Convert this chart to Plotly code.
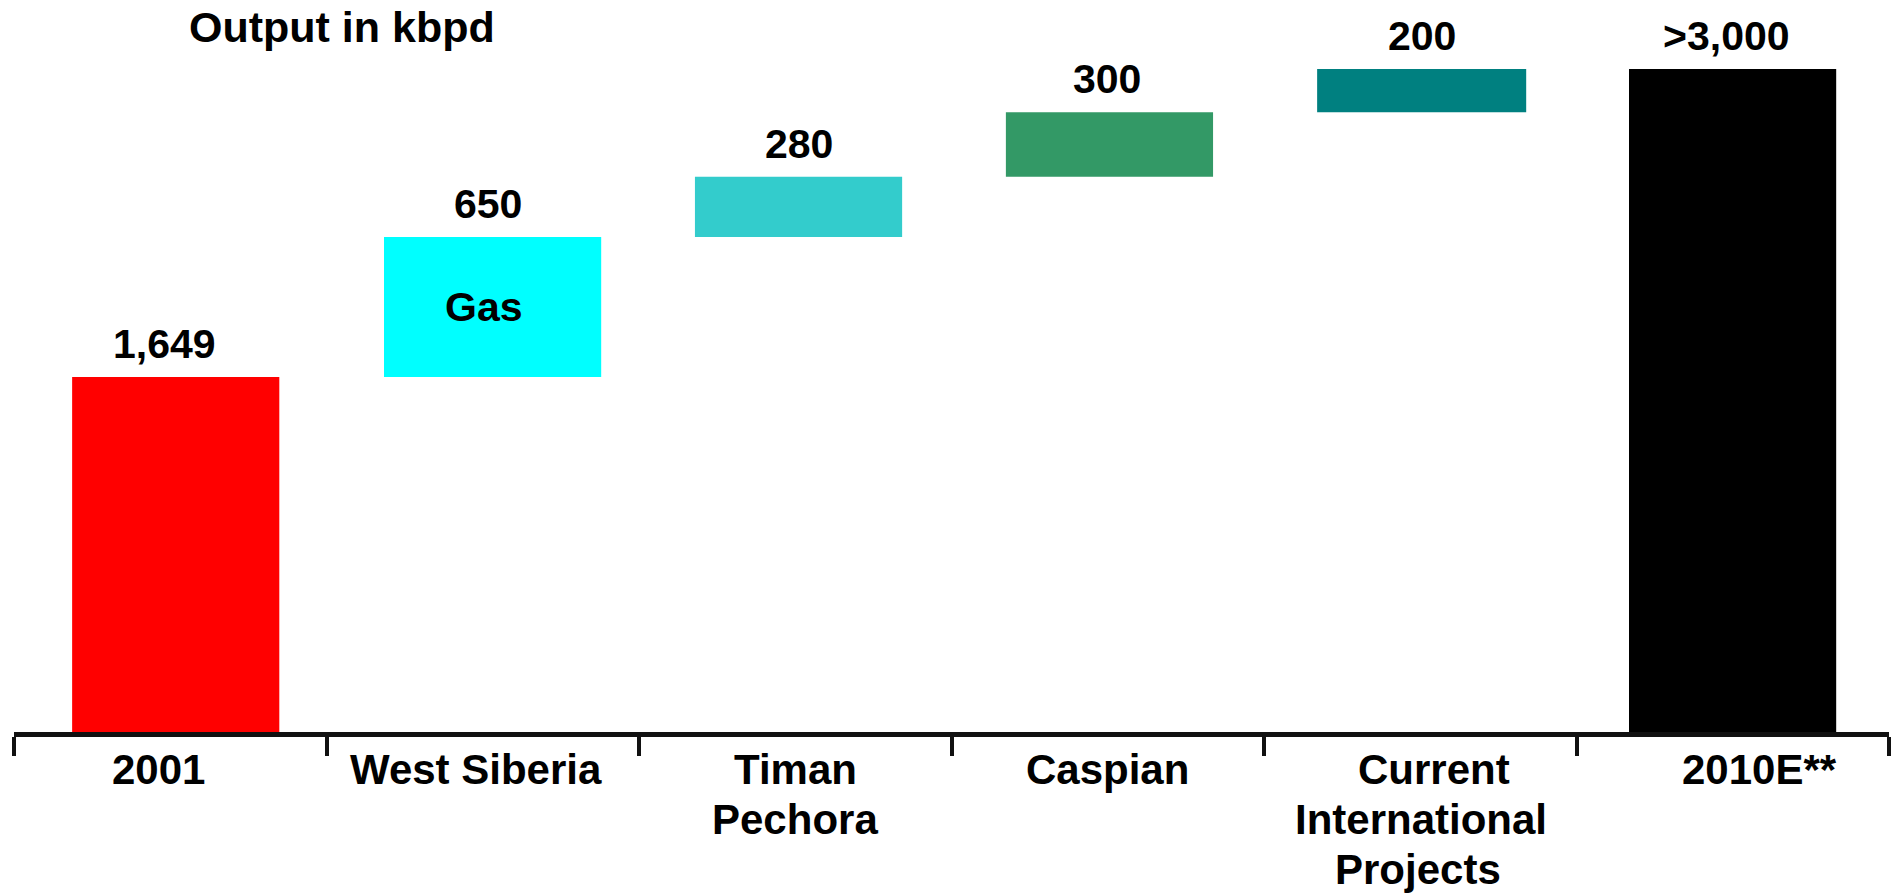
import plotly.graph_objects as go

# Oil output bridge, 2001 -> 2010E (kbpd)
categories = ["2001", "West Siberia", "Timan<br>Pechora", "Caspian",
              "Current<br>International<br>Projects", "2010E**"]
start_value = 1649
increments = [650, 280, 300, 200]
value_labels = ["1,649", "650", "280", "300", "200", ">3,000"]
inner_label = {"West Siberia": "Gas"}

# Styling
bar_colors = ["#FF0000", "#00FFFF", "#33CCCC", "#339966", "#008080", "#000000"]
bar_widths = [0.663, 0.695, 0.663, 0.663, 0.669, 0.663]
bar_offsets = [-0.314, -0.316, -0.321, -0.326, -0.330, -0.332]
value_label_xshift = [-11, -5, 0, -2, 0, -6]      # px, relative to bar centre
inner_label_xshift = -9
category_line_xshift = [[-12], [-7], [0, 0], [0], [14, 1, -2], [27]]

# Build floating bars: start bar, stacked increments, then total
total_value = start_value + sum(increments)
heights = [start_value] + increments + [total_value]
bases = [0]
running = start_value
for inc in increments:
    bases.append(running)
    running += inc
bases.append(0)

FONT = "Liberation Sans, Arial, sans-serif"

fig = go.Figure(
    go.Bar(
        x=categories,
        y=heights,
        base=bases,
        width=bar_widths,
        offset=bar_offsets,
        marker=dict(color=bar_colors, line=dict(width=0)),
        hoverinfo="skip",
    )
)

# Bar centres on the category axis (index units)
centres = [i + o + w / 2 for i, (o, w) in enumerate(zip(bar_offsets, bar_widths))]

annotations = []
# Value labels above each bar
for i, (b, h, lab) in enumerate(zip(bases, heights, value_labels)):
    annotations.append(dict(
        x=centres[i], y=b + h, xref="x", yref="y", text=lab, showarrow=False,
        yanchor="middle", yshift=33, xshift=value_label_xshift[i],
        font=dict(family=FONT, size=41, color="black", weight="bold"),
    ))
# Text inside bars
for i, cat in enumerate(categories):
    if cat in inner_label:
        annotations.append(dict(
            x=centres[i], y=bases[i] + heights[i] / 2, xref="x", yref="y",
            text=inner_label[cat], showarrow=False, yanchor="middle",
            xshift=inner_label_xshift,
            font=dict(family=FONT, size=41, color="black", weight="bold"),
        ))
# Category labels under the axis, one line per annotation
for i, cat in enumerate(categories):
    for j, line in enumerate(cat.split("<br>")):
        annotations.append(dict(
            x=i, y=0, xref="x", yref="y", text=line, showarrow=False,
            yanchor="middle", yshift=-(37 + 50 * j),
            xshift=category_line_xshift[i][j],
            font=dict(family=FONT, size=42, color="black", weight="bold"),
        ))

plot_w = 1897 - 14 - 8
plot_h = 894 - 162
# Unit caption, placed in paper coordinates
annotations.append(dict(
    x=(187 - 14) / plot_w, y=1 - 27 / plot_h, xref="paper", yref="paper",
    text="Output in kbpd", showarrow=False, xanchor="left", yanchor="middle",
    font=dict(family=FONT, size=43, color="black", weight="bold"),
))

fig.update_layout(
    width=1897, height=894,
    margin=dict(l=14, r=8, t=0, b=162, pad=0),
    paper_bgcolor="white", plot_bgcolor="white",
    showlegend=False,
    annotations=annotations,
    xaxis=dict(
        type="category",
        range=[-0.5, len(categories) - 0.5],
        showticklabels=False,
        tickson="boundaries", ticks="outside", ticklen=19, tickwidth=4,
        tickcolor="#111111", showline=True, linewidth=5, linecolor="#111111",
        showgrid=False, zeroline=False, fixedrange=True,
    ),
    yaxis=dict(range=[0, 3400], visible=False, fixedrange=True),
)

fig.write_html("out.html")
